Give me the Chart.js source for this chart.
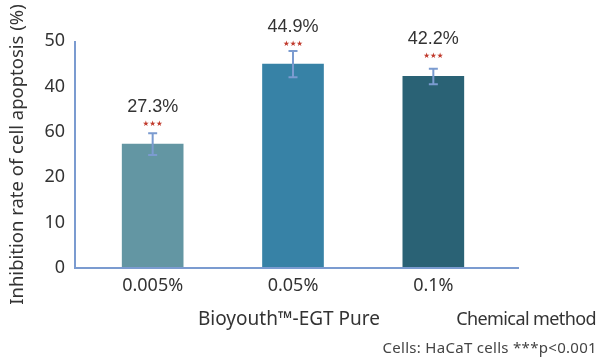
<!DOCTYPE html>
<html>
<head>
<meta charset="utf-8">
<script src="https://cdn.jsdelivr.net/npm/chart.js@4.4.1/dist/chart.umd.min.js"></script>
<style>
  html, body { margin: 0; padding: 0; background: #fff; }
  #wrap { position: relative; width: 608px; height: 359px; overflow: hidden; }
  canvas { position: absolute; left: 0; top: 0; }
  .note { position: absolute; white-space: nowrap; color: #333; font-family: "Noto Sans", sans-serif; }
</style>
</head>
<body>
<div id="wrap">
  <canvas id="c" width="608" height="359"></canvas>
  <div class="note" id="g1" style="left:198px; top:305px; font-size:19px; line-height:26px; letter-spacing:0px;">Bioyouth™-EGT Pure</div>
  <div class="note" id="g2" style="right:12px; top:305px; font-size:18px; line-height:26px; letter-spacing:-0.6px;">Chemical method</div>
  <div class="note" id="fn" style="right:11px; top:337px; font-size:15px; line-height:20px; letter-spacing:0.3px; color:#444;">Cells: HaCaT cells ***p&lt;0.001</div>
</div>
<script>
// Concentrations of the test substance
const categories = ['0.005%', '0.05%', '0.1%'];
// Inhibition rate of cell apoptosis (%)
const values = [27.3, 44.9, 42.2];
// Standard deviation of each bar
const errors = [2.4, 2.9, 1.7];
// Significance markers above each bar
const marks = ['★★★', '★★★', '★★★'];
// Y axis tick labels, bottom to top
const yTickLabels = ['0', '10', '20', '60', '40', '50'];

const barColors = ['#6396a3', '#3782a6', '#2a6275'];
const axisColor = '#7b9bd0';

// Axis lines, drawn slightly wider than the plot area
const axisLines = {
  id: 'axisLines',
  afterDatasetsDraw(chart) {
    const { ctx, chartArea, scales } = chart;
    const y = scales.y;
    const x0 = chartArea.left - 7.5;
    const yTop = y.getPixelForValue(50);
    const yBot = y.getPixelForValue(0);
    ctx.save();
    ctx.strokeStyle = axisColor;
    ctx.lineWidth = 2;
    ctx.beginPath();
    ctx.moveTo(x0, yTop);
    ctx.lineTo(x0, yBot);
    ctx.lineTo(chartArea.right + 15.5, yBot);
    ctx.stroke();
    ctx.restore();
  }
};

// Error bars, significance stars and value labels
const barAnnotations = {
  id: 'barAnnotations',
  afterDatasetsDraw(chart) {
    const { ctx, scales } = chart;
    const y = scales.y;
    const meta = chart.getDatasetMeta(0);
    ctx.save();
    meta.data.forEach((bar, i) => {
      const cx = bar.x;
      const top = y.getPixelForValue(values[i] + errors[i]);
      const bot = y.getPixelForValue(values[i] - errors[i]);
      ctx.strokeStyle = axisColor;
      ctx.lineWidth = 2;
      ctx.beginPath();
      ctx.moveTo(cx, top);
      ctx.lineTo(cx, bot);
      ctx.moveTo(cx - 4.5, top);
      ctx.lineTo(cx + 4.5, top);
      ctx.moveTo(cx - 4.5, bot);
      ctx.lineTo(cx + 4.5, bot);
      ctx.stroke();

      const barTop = y.getPixelForValue(values[i]);
      ctx.textAlign = 'center';
      ctx.textBaseline = 'middle';
      ctx.fillStyle = '#c0392b';
      ctx.font = '7.5px "DejaVu Sans"';
      ctx.fillText(marks[i], cx, barTop - 20);

      ctx.fillStyle = '#333';
      ctx.font = '18px "Liberation Sans"';
      ctx.fillText(values[i].toFixed(1) + '%', cx, barTop - 37);
    });
    ctx.restore();
  }
};

new Chart(document.getElementById('c'), {
  type: 'bar',
  data: {
    labels: categories,
    datasets: [{
      data: values,
      backgroundColor: barColors,
      barThickness: 61,
      borderWidth: 0
    }]
  },
  options: {
    responsive: false,
    devicePixelRatio: 1,
    animation: false,
    layout: { padding: { top: 41, right: 104.5, bottom: 0, left: 0 } },
    plugins: { legend: { display: false }, tooltip: { enabled: false } },
    scales: {
      x: {
        grid: { display: false, drawTicks: false },
        border: { display: false },
        ticks: {
          color: '#333',
          font: { family: 'Noto Sans', size: 18 },
          padding: 7
        },
        afterFit(s) { s.height = 91; }
      },
      y: {
        min: 0,
        max: 50,
        grid: { display: false, drawTicks: false },
        border: { display: false },
        ticks: {
          stepSize: 10,
          color: '#333',
          font: { family: 'Noto Sans', size: 18 },
          padding: 17.5,
          callback: (v, i) => yTickLabels[i]
        },
        title: {
          display: true,
          text: 'Inhibition rate of cell apoptosis (%)',
          color: '#333',
          font: { family: 'Noto Sans', size: 18.5 },
          padding: { top: 7, bottom: 0 }
        },
        afterFit(s) { s.width = 82.5; }
      }
    }
  },
  plugins: [axisLines, barAnnotations]
});
</script>
</body>
</html>
